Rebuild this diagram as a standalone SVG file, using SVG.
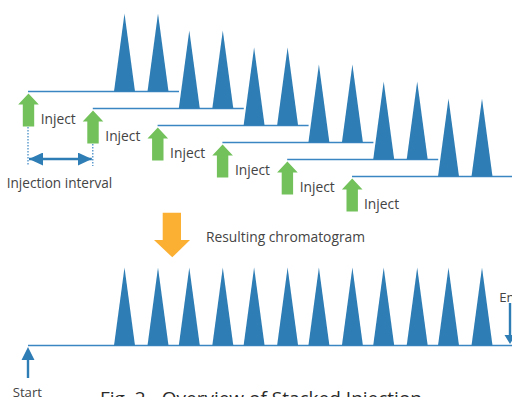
<svg xmlns="http://www.w3.org/2000/svg" width="512" height="397" viewBox="0 0 512 397">
<defs>
<style>
.pk{fill:#2F7DB5}
.bl{stroke:#3A86C2;stroke-width:1.5;fill:none}
.ga{fill:#72C15A}
.t{font-family:"Open Sans","DejaVu Sans",sans-serif;font-size:13.8px;fill:#444}
.cap{font-family:"Open Sans","DejaVu Sans",sans-serif;font-size:19px;fill:#2a2a2a}
.dot{stroke:#3A86C2;stroke-width:1.2;stroke-dasharray:1.5 1.5;fill:none}
</style>
<path id="peak" class="pk" d="M-10.5,0 L0,-78 L10.5,0 Z"/>
<path id="garr" class="ga" d="M0,0 L10.3,11 L5.7,11 L5.7,33 L-5.7,33 L-5.7,11 L-10.3,11 Z"/>
<marker id="ah" viewBox="0 0 14 13" refX="14" refY="6.5" markerWidth="14" markerHeight="13" markerUnits="userSpaceOnUse" orient="auto-start-reverse"><path d="M0,0 L14,6.5 L0,13 Z" fill="#2F7DB5"/></marker>
</defs>
<rect width="512" height="397" fill="#fff"/>

<g id="connectors">
<path class="bl" d="M28,91.5 H179"/>
<path class="bl" d="M92.8,108.5 H243.8"/>
<path class="bl" d="M157.6,125.5 H308.6"/>
<path class="bl" d="M222.4,142.5 H373.4"/>
<path class="bl" d="M287.2,159.5 H438.2"/>
<path class="bl" d="M352,176.5 H512"/>
<path class="bl" d="M28,345.5 H512"/>
<path class="dot" d="M28,127 V166"/>
<path class="dot" d="M92.8,144 V166"/>
<path d="M29,159 H91.8" stroke="#2F7DB5" stroke-width="2.5" marker-start="url(#ah)" marker-end="url(#ah)"/>
</g>

<g id="row1"><use href="#peak" x="124.5" y="91.5"/><use href="#peak" x="158" y="91.5"/></g>
<g id="row2"><use href="#peak" x="189.3" y="108.5"/><use href="#peak" x="222.8" y="108.5"/></g>
<g id="row3"><use href="#peak" x="254.1" y="125.5"/><use href="#peak" x="287.6" y="125.5"/></g>
<g id="row4"><use href="#peak" x="318.9" y="142.5"/><use href="#peak" x="352.4" y="142.5"/></g>
<g id="row5"><use href="#peak" x="383.7" y="159.5"/><use href="#peak" x="417.2" y="159.5"/></g>
<g id="row6"><use href="#peak" x="448.5" y="176.5"/><use href="#peak" x="482" y="176.5"/></g>

<g id="inject1"><use href="#garr" x="28.5" y="93.5"/><text class="t" x="40.7" y="123.5">Inject</text></g>
<g id="inject2"><use href="#garr" x="93" y="110.5"/><text class="t" x="105.3" y="140.5">Inject</text></g>
<g id="inject3"><use href="#garr" x="157.8" y="127.5"/><text class="t" x="170.1" y="157.5">Inject</text></g>
<g id="inject4"><use href="#garr" x="222.6" y="144.5"/><text class="t" x="234.9" y="174.5">Inject</text></g>
<g id="inject5"><use href="#garr" x="287.4" y="161.5"/><text class="t" x="299.7" y="191.5">Inject</text></g>
<g id="inject6"><use href="#garr" x="352.2" y="178.5"/><text class="t" x="364" y="208.5">Inject</text></g>

<g id="interval"><text class="t" x="6.7" y="187.7" style="font-size:13.6px">Injection interval</text></g>

<g id="result-arrow">
<path d="M162.7,212.7 H181 V240 H190 L172.3,257.3 L154,240 H162.7 Z" fill="#FBB034"/>
<text class="t" x="206" y="242.3">Resulting chromatogram</text>
</g>

<g id="chromatogram">
<use href="#peak" x="124.5" y="345.5"/><use href="#peak" x="158" y="345.5"/>
<use href="#peak" x="189.3" y="345.5"/><use href="#peak" x="222.8" y="345.5"/>
<use href="#peak" x="254.1" y="345.5"/><use href="#peak" x="287.6" y="345.5"/>
<use href="#peak" x="318.9" y="345.5"/><use href="#peak" x="352.4" y="345.5"/>
<use href="#peak" x="383.7" y="345.5"/><use href="#peak" x="417.2" y="345.5"/>
<use href="#peak" x="448.5" y="345.5"/><use href="#peak" x="482" y="345.5"/>
</g>

<g id="start">
<path d="M28,347 L34.5,360 H29.2 V378 H26.8 V360 H21.5 Z" fill="#2F7DB5"/>
<text class="t" x="12.7" y="397" style="font-size:13.2px">Start</text>
</g>
<g id="end">
<path d="M510,344 L504.5,335 H508.8 V303 H511.2 V335 H515.5 Z" fill="#2F7DB5"/>
<text class="t" x="499.3" y="301.7" style="font-size:13.2px">End</text>
</g>

<g id="caption"><text class="cap" x="100" y="405">Fig. 2</text><text class="cap" x="161.7" y="405">Overview of Stacked Injection</text></g>
</svg>
